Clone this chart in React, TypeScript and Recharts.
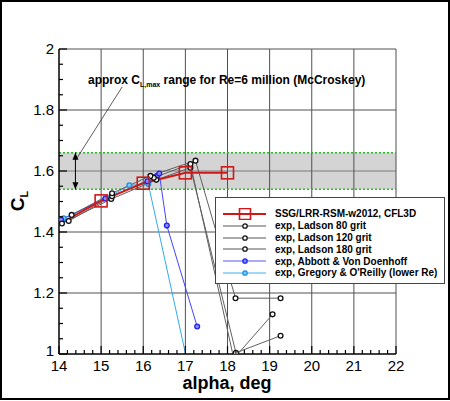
import { LineChart, Line, XAxis, YAxis, ReferenceLine, ReferenceArea, Legend } from 'recharts'

// CFD vs experiment, lift near stall
const ssgAlpha = [13, 15, 16, 17, 18]
const ssgCl = [1.35, 1.502, 1.56, 1.594, 1.594]

const lad80Alpha = [14.3, 15.26, 16.17, 17.24, 18.19, 19.26]
const lad80Cl = [1.456, 1.527, 1.584, 1.634, 1.183, 1.183]

const lad120Alpha = [14.23, 15.26, 16.25, 17.12, 18.15, 19.07]
const lad120Cl = [1.436, 1.517, 1.578, 1.623, 0.985, 1.13]

const lad180Alpha = [14.07, 15.24, 16.31, 17.12, 18.2, 19.26]
const lad180Cl = [1.428, 1.508, 1.571, 1.611, 1.004, 1.06]

const abbottAlpha = [14.05, 15.1, 16.1, 16.33, 16.38, 16.56, 17.28]
const abbottCl = [1.44, 1.51, 1.566, 1.584, 1.592, 1.421, 1.09]

const gregAlpha = [14.0, 14.11, 15.12, 15.67, 16.12, 17.02]
const gregCl = [1.44, 1.445, 1.51, 1.553, 1.557, 0.99]

const xGrid = [15, 16, 17, 18, 19, 20, 21, 22]
const yGrid = [1.2, 1.4, 1.6, 1.8]

const bandLow = 1.54
const bandHigh = 1.66
const arrowAlpha = 14.39
const leader = [{ x: 15.5, y: 1.876 }, { x: 14.43, y: 1.643 }]

// minor ticks: 5 per degree, 4 per 0.2 of CL
const xTicks: number[] = []
for (let i = 0; i <= 40; i++) xTicks.push(+(14 + i * 0.2).toFixed(2))
const yTicks: number[] = []
for (let i = 0; i <= 20; i++) yTicks.push(+(1 + i * 0.05).toFixed(2))

const pts = (a: number[], c: number[]) => a.map((x, i) => ({ alpha: x, cl: c[i] }))

const FONT = '"Liberation Sans", Arial, Helvetica, sans-serif'

const series = [
  { key: 'greg', name: "exp, Gregory & O'Reilly (lower Re)", data: pts(gregAlpha, gregCl), stroke: '#33aaee', fill: '#77ccff', ring: '#1e90e0' },
  { key: 'abbott', name: 'exp, Abbott & Von Doenhoff', data: pts(abbottAlpha, abbottCl), stroke: '#4444ff', fill: '#8888ff', ring: '#2222ee' },
  { key: 'l180', name: 'exp, Ladson 180 grit', data: pts(lad180Alpha, lad180Cl), stroke: '#606060', fill: '#ffffff', ring: '#111111' },
  { key: 'l120', name: 'exp, Ladson 120 grit', data: pts(lad120Alpha, lad120Cl), stroke: '#606060', fill: '#ffffff', ring: '#111111' },
  { key: 'l80', name: 'exp, Ladson 80 grit', data: pts(lad80Alpha, lad80Cl), stroke: '#606060', fill: '#ffffff', ring: '#111111' },
]

const RED = '#d01818'

function XTick(props: any) {
  const { x, y, payload } = props
  const v = payload.value
  const major = Math.abs(v - Math.round(v)) < 1e-6
  return (
    <g>
      <line x1={x} y1={y} x2={x} y2={y - (major ? 8 : 4)} stroke="#000" strokeWidth={1.2} />
      {major && (
        <text x={x} y={y + 17} textAnchor="middle" fontFamily={FONT} fontSize={15} fill="#000">
          {v}
        </text>
      )}
    </g>
  )
}

function YTick(props: any) {
  const { x, y, payload } = props
  const v = payload.value
  const major = Math.abs(v * 5 - Math.round(v * 5)) < 1e-6
  // the bottom label sits a little higher so it clears the "14" below it
  const dy = v === 1 ? 2 : 5
  return (
    <g>
      <line x1={x} y1={y} x2={x + (major ? 8 : 4)} y2={y} stroke="#000" strokeWidth={1.2} />
      {major && (
        <text x={x - 5} y={y + dy} textAnchor="end" fontFamily={FONT} fontSize={15} fill="#000">
          {Number(v.toFixed(1))}
        </text>
      )}
    </g>
  )
}

function arrowShape(props: any) {
  const { x1, y1, x2, y2 } = props
  const h = 7
  const w = 3
  return (
    <g>
      <line x1={x1} y1={y1} x2={x2} y2={y2} stroke="#000" strokeWidth={1} />
      <polygon points={`${x1},${y1} ${x1 - w},${y1 + h} ${x1 + w},${y1 + h}`} fill="#000" />
      <polygon points={`${x2},${y2} ${x2 - w},${y2 - h} ${x2 + w},${y2 - h}`} fill="#000" />
    </g>
  )
}

const square = (props: any) => {
  const { cx, cy, index } = props
  return <rect key={`sq-${index}`} x={cx - 6} y={cy - 6} width={12} height={12} fill="none" stroke={RED} strokeWidth={1.6} />
}

const circle = (ring: string, fill: string) => (props: any) => {
  const { cx, cy, index } = props
  return <circle key={`c-${index}`} cx={cx} cy={cy} r={2.4} fill={fill} stroke={ring} strokeWidth={1.3} />
}

const legendRows = [
  { name: 'SSG/LRR-RSM-w2012, CFL3D', line: RED, marker: 'square', ring: RED, fill: 'none' },
  { name: 'exp, Ladson 80 grit', line: '#aaaaaa', marker: 'circle', ring: '#111', fill: '#fff' },
  { name: 'exp, Ladson 120 grit', line: '#aaaaaa', marker: 'circle', ring: '#111', fill: '#fff' },
  { name: 'exp, Ladson 180 grit', line: '#aaaaaa', marker: 'circle', ring: '#111', fill: '#fff' },
  { name: 'exp, Abbott & Von Doenhoff', line: '#aaaaf5', marker: 'circle', ring: '#2222ee', fill: '#8888ff' },
  { name: "exp, Gregory & O'Reilly (lower Re)", line: '#9fd8f5', marker: 'circle', ring: '#1e90e0', fill: '#77ccff' },
]

function LegendBox() {
  return (
    <div
      style={{
        width: 230,
        height: 87,
        boxSizing: 'border-box',
        background: '#fff',
        border: '1px solid #444',
        paddingTop: 10,
        fontFamily: FONT,
        fontWeight: 'bold',
        fontSize: 10,
      }}
    >
      {legendRows.map((r) => (
        <div key={r.name} style={{ display: 'flex', alignItems: 'center', height: 11.8 }}>
          <svg width={59} height={12} style={{ flex: 'none' }}>
            <line x1={7} y1={6} x2={50} y2={6} stroke={r.line} strokeWidth={2} />
            {r.marker === 'square' ? (
              <rect x={23.5} y={0.5} width={11} height={11} fill="none" stroke={r.ring} strokeWidth={1.6} />
            ) : (
              <circle cx={29} cy={6} r={2.2} fill={r.fill} stroke={r.ring} strokeWidth={1.3} />
            )}
          </svg>
          <span style={{ whiteSpace: 'nowrap', color: '#000' }}>{r.name}</span>
        </div>
      ))}
    </div>
  )
}

export default function App() {
  return (
    <div style={{ position: 'absolute', left: 0, top: 0, width: 450, height: 401, background: '#fff', overflow: 'hidden' }}>
      <LineChart width={450} height={401} margin={{ top: 49, right: 54, bottom: 46, left: 58 }}>
        <XAxis
          type="number"
          dataKey="alpha"
          domain={[14, 22]}
          allowDataOverflow
          ticks={xTicks}
          interval={0}
          height={1}
          tickSize={0}
          tickMargin={0}
          tickLine={false}
          axisLine={{ stroke: '#000', strokeWidth: 1.5 }}
          tick={<XTick />}
        />
        <YAxis
          type="number"
          dataKey="cl"
          domain={[1, 2]}
          allowDataOverflow
          ticks={yTicks}
          interval={0}
          width={1}
          tickSize={0}
          tickMargin={0}
          tickLine={false}
          axisLine={{ stroke: '#000', strokeWidth: 1.5 }}
          tick={<YTick />}
        />
        <ReferenceArea y1={bandLow} y2={bandHigh} fill="#d4d4d4" fillOpacity={1} stroke="none" />
        {yGrid.map((v) => (
          <ReferenceLine key={`gy${v}`} y={v} stroke="#a8a8a8" strokeWidth={2} />
        ))}
        {xGrid.map((v) => (
          <ReferenceLine key={`gx${v}`} x={v} stroke="#505050" strokeWidth={1} />
        ))}
        <ReferenceLine y={2} stroke="#505050" strokeWidth={1} />
        <ReferenceLine y={bandLow} stroke="#22bb22" strokeWidth={1.5} strokeDasharray="2 2" />
        <ReferenceLine y={bandHigh} stroke="#22bb22" strokeWidth={1.5} strokeDasharray="2 2" />
        <ReferenceLine
          segment={[{ x: arrowAlpha, y: bandHigh }, { x: arrowAlpha, y: bandLow }]}
          shape={arrowShape}
        />
        <ReferenceLine segment={leader} stroke="#333" strokeWidth={0.8} />
        {series.map((s) => (
          <Line
            key={s.key}
            data={s.data}
            dataKey="cl"
            name={s.name}
            stroke={s.stroke}
            strokeWidth={1}
            dot={circle(s.ring, s.fill)}
            activeDot={false}
            isAnimationActive={false}
          />
        ))}
        <Line
          data={pts(ssgAlpha, ssgCl)}
          dataKey="cl"
          name="SSG/LRR-RSM-w2012, CFL3D"
          stroke={RED}
          strokeWidth={2}
          dot={square}
          activeDot={false}
          isAnimationActive={false}
        />
        <Legend
          layout="vertical"
          align="center"
          verticalAlign="middle"
          content={<LegendBox />}
          wrapperStyle={{ left: 215, top: 197, width: 230, bottom: 'auto', right: 'auto' }}
        />
      </LineChart>

      <div
        style={{
          position: 'absolute',
          left: 88,
          top: 73,
          fontFamily: FONT,
          fontWeight: 'bold',
          fontSize: 12,
          lineHeight: '14px',
          whiteSpace: 'nowrap',
          color: '#000',
        }}
      >
        approx C<sub style={{ fontSize: 7, verticalAlign: '-3px' }}>L,max</sub> range for Re=6 million (McCroskey)
      </div>

      <div
        style={{
          position: 'absolute',
          left: 227,
          top: 383,
          transform: 'translate(-50%, -50%)',
          fontFamily: FONT,
          fontWeight: 'bold',
          fontSize: 18,
          whiteSpace: 'nowrap',
          color: '#000',
        }}
      >
        alpha, deg
      </div>

      <div
        style={{
          position: 'absolute',
          left: 18,
          top: 201,
          transform: 'translate(-50%, -50%) rotate(-90deg)',
          fontFamily: FONT,
          fontWeight: 'bold',
          fontSize: 19,
          whiteSpace: 'nowrap',
          color: '#000',
        }}
      >
        C<sub style={{ fontSize: 11, verticalAlign: '-4px' }}>L</sub>
      </div>

      <div
        style={{
          position: 'absolute',
          left: 0,
          top: 0,
          width: 450,
          height: 400,
          boxSizing: 'border-box',
          border: '2px solid #000',
          pointerEvents: 'none',
        }}
      />
    </div>
  )
}
